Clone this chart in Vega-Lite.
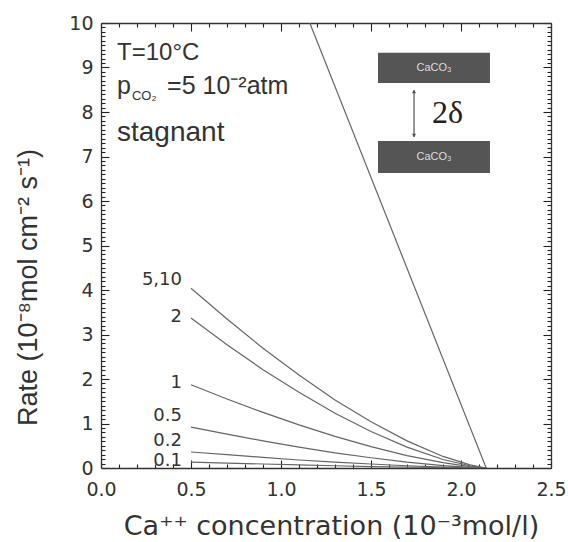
{
  "$schema": "https://vega.github.io/schema/vega-lite/v6.json",
  "width": 450,
  "height": 445,
  "autosize": "none",
  "padding": {"left": 101, "top": 23, "right": 17, "bottom": 74},
  "background": "white",
  "config": {
    "view": {"stroke": null},
    "font": "Liberation Sans",
    "axis": {"domainColor": "#333", "domainWidth": 1.3, "labelColor": "#333", "titleColor": "#333", "labelFont": "DejaVu Sans", "titleFont": "Liberation Sans", "titleFontWeight": "normal", "labelOverlap": false}
  },
  "datasets": {
    "curves": [
      {"s": "5,10", "c": 0.5, "r": 4.04}, {"s": "5,10", "c": 0.7, "r": 3.35}, {"s": "5,10", "c": 0.9, "r": 2.69}, {"s": "5,10", "c": 1.1, "r": 2.09}, {"s": "5,10", "c": 1.3, "r": 1.53}, {"s": "5,10", "c": 1.5, "r": 1.04}, {"s": "5,10", "c": 1.7, "r": 0.61}, {"s": "5,10", "c": 1.9, "r": 0.26}, {"s": "5,10", "c": 2.05, "r": 0.07}, {"s": "5,10", "c": 2.14, "r": 0},
      {"s": "2", "c": 0.5, "r": 3.37}, {"s": "2", "c": 0.7, "r": 2.77}, {"s": "2", "c": 0.9, "r": 2.21}, {"s": "2", "c": 1.1, "r": 1.7}, {"s": "2", "c": 1.3, "r": 1.23}, {"s": "2", "c": 1.5, "r": 0.82}, {"s": "2", "c": 1.7, "r": 0.47}, {"s": "2", "c": 1.9, "r": 0.19}, {"s": "2", "c": 2.05, "r": 0.05}, {"s": "2", "c": 2.14, "r": 0},
      {"s": "1", "c": 0.5, "r": 1.87}, {"s": "1", "c": 0.7, "r": 1.55}, {"s": "1", "c": 0.9, "r": 1.25}, {"s": "1", "c": 1.1, "r": 0.97}, {"s": "1", "c": 1.3, "r": 0.71}, {"s": "1", "c": 1.5, "r": 0.48}, {"s": "1", "c": 1.7, "r": 0.28}, {"s": "1", "c": 1.9, "r": 0.12}, {"s": "1", "c": 2.05, "r": 0.03}, {"s": "1", "c": 2.14, "r": 0},
      {"s": "0.5", "c": 0.5, "r": 0.92}, {"s": "0.5", "c": 0.7, "r": 0.76}, {"s": "0.5", "c": 0.9, "r": 0.61}, {"s": "0.5", "c": 1.1, "r": 0.47}, {"s": "0.5", "c": 1.3, "r": 0.34}, {"s": "0.5", "c": 1.5, "r": 0.23}, {"s": "0.5", "c": 1.7, "r": 0.13}, {"s": "0.5", "c": 1.9, "r": 0.055}, {"s": "0.5", "c": 2.05, "r": 0.014}, {"s": "0.5", "c": 2.14, "r": 0},
      {"s": "0.2", "c": 0.5, "r": 0.36}, {"s": "0.2", "c": 0.7, "r": 0.3}, {"s": "0.2", "c": 0.9, "r": 0.24}, {"s": "0.2", "c": 1.1, "r": 0.18}, {"s": "0.2", "c": 1.3, "r": 0.13}, {"s": "0.2", "c": 1.5, "r": 0.09}, {"s": "0.2", "c": 1.7, "r": 0.05}, {"s": "0.2", "c": 1.9, "r": 0.02}, {"s": "0.2", "c": 2.05, "r": 0.01}, {"s": "0.2", "c": 2.14, "r": 0},
      {"s": "0.1", "c": 0.5, "r": 0.13}, {"s": "0.1", "c": 0.7, "r": 0.11}, {"s": "0.1", "c": 0.9, "r": 0.09}, {"s": "0.1", "c": 1.1, "r": 0.07}, {"s": "0.1", "c": 1.3, "r": 0.05}, {"s": "0.1", "c": 1.5, "r": 0.03}, {"s": "0.1", "c": 1.7, "r": 0.02}, {"s": "0.1", "c": 1.9, "r": 0.01}, {"s": "0.1", "c": 2.05, "r": 0}, {"s": "0.1", "c": 2.14, "r": 0}
    ],
    "steep": [{"c": 1.16, "r": 10}, {"c": 2.14, "r": 0}],
    "curveLabels": [
      {"t": "5,10", "c": 0.45, "r": 4.22},
      {"t": "2", "c": 0.45, "r": 3.39},
      {"t": "1", "c": 0.45, "r": 1.91},
      {"t": "0.5", "c": 0.45, "r": 1.16},
      {"t": "0.2", "c": 0.45, "r": 0.6},
      {"t": "0.1", "c": 0.45, "r": 0.15}
    ],
    "notes": [
      {"t": "T=10°C", "c": 0.089, "r": 9.33, "size": 24},
      {"t": "stagnant", "c": 0.089, "r": 7.53, "size": 28}
    ],
    "pco2": [
      {"t": "p", "c": 0.089, "r": 8.58, "size": 25},
      {"t": "CO₂", "c": 0.172, "r": 8.36, "size": 13},
      {"t": "=5 10⁻²atm", "c": 0.367, "r": 8.58, "size": 25}
    ],
    "boxes": [
      {"x1": 1.539, "x2": 2.161, "y1": 8.65, "y2": 9.33, "t": "CaCO₃", "cy": 8.99},
      {"x1": 1.539, "x2": 2.161, "y1": 6.63, "y2": 7.35, "t": "CaCO₃", "cy": 6.99}
    ],
    "arrow": [{"c": 1.739, "r1": 7.44, "r2": 8.49}],
    "heads": [{"c": 1.739, "r": 8.46, "sh": "triangle-up"}, {"c": 1.739, "r": 7.47, "sh": "triangle-down"}],
    "delta": [{"t": "2δ", "c": 1.839, "r": 7.98}]
  },
  "layer": [
    {
      "data": {"name": "curves"},
      "mark": {"type": "line", "color": "#666", "strokeWidth": 1.2, "clip": true},
      "encoding": {
        "x": {"field": "c", "type": "quantitative", "scale": {"domain": [0, 2.5], "nice": false},
          "axis": {"orient": "bottom", "ticks": false, "grid": true, "gridColor": "#222", "gridWidth": 1.1, "gridOpacity": 1,
            "values": [0,0.1,0.2,0.3,0.4,0.5,0.6,0.7,0.8,0.9,1,1.1,1.2,1.3,1.4,1.5,1.6,1.7,1.8,1.9,2,2.1,2.2,2.3,2.4,2.5],
            "labelExpr": "abs(datum.value*2 - round(datum.value*2)) < 0.001 ? format(datum.value, '.1f') : ''",
            "gridDash": {"condition": {"test": "abs(datum.value*2 - round(datum.value*2)) < 0.001", "value": [8, 3000]}, "value": [4, 3000]},
            "labelPadding": 12, "labelFontSize": 19, "labelFlush": false,
            "title": "Ca⁺⁺ concentration (10⁻³mol/l)", "titleFont": "DejaVu Sans", "titleFontSize": 27, "titleX": 230, "titleY": 66, "titleBaseline": "alphabetic", "titleAlign": "center", "titleAnchor": null}},
        "y": {"field": "r", "type": "quantitative", "scale": {"domain": [0, 10], "nice": false},
          "axis": {"orient": "left", "ticks": false, "grid": true, "gridColor": "#222", "gridWidth": 1.1, "gridOpacity": 1,
            "values": [0,0.1,0.2,0.3,0.4,0.5,0.6,0.7,0.8,0.9,1,1.1,1.2,1.3,1.4,1.5,1.6,1.7,1.8,1.9,2,2.1,2.2,2.3,2.4,2.5,2.6,2.7,2.8,2.9,3,3.1,3.2,3.3,3.4,3.5,3.6,3.7,3.8,3.9,4,4.1,4.2,4.3,4.4,4.5,4.6,4.7,4.8,4.9,5,5.1,5.2,5.3,5.4,5.5,5.6,5.7,5.8,5.9,6,6.1,6.2,6.3,6.4,6.5,6.6,6.7,6.8,6.9,7,7.1,7.2,7.3,7.4,7.5,7.6,7.7,7.8,7.9,8,8.1,8.2,8.3,8.4,8.5,8.6,8.7,8.8,8.9,9,9.1,9.2,9.3,9.4,9.5,9.6,9.7,9.8,9.9,10],
            "labelExpr": "abs(datum.value - round(datum.value)) < 0.001 ? format(datum.value, 'd') : ''",
            "gridDash": {"condition": {"test": "abs(datum.value - round(datum.value)) < 0.001", "value": [8, 3000]}, "value": [4, 3000]},
            "labelPadding": 8, "labelFontSize": 19, "labelFlush": false,
            "title": "Rate (10⁻⁸mol cm⁻² s⁻¹)", "titleFontSize": 27, "titleAngle": -90, "titleX": -73, "titleY": 264, "titleBaseline": "middle", "titleAlign": "center", "titleAnchor": null}},
        "detail": {"field": "s", "type": "nominal"}
      }
    },
    {
      "data": {"name": "steep"},
      "mark": {"type": "line", "color": "#666", "strokeWidth": 1.2, "clip": true},
      "encoding": {
        "x": {"field": "c", "type": "quantitative",
          "axis": {"orient": "top", "labels": false, "title": null, "ticks": false, "grid": true, "gridColor": "#222", "gridWidth": 1.1, "gridOpacity": 1,
            "values": [0,0.1,0.2,0.3,0.4,0.5,0.6,0.7,0.8,0.9,1,1.1,1.2,1.3,1.4,1.5,1.6,1.7,1.8,1.9,2,2.1,2.2,2.3,2.4,2.5],
            "gridDash": {"condition": {"test": "abs(datum.value*2 - round(datum.value*2)) < 0.001", "value": [8, 3000]}, "value": [4, 3000]}}},
        "y": {"field": "r", "type": "quantitative",
          "axis": {"orient": "right", "labels": false, "title": null, "ticks": false, "grid": true, "gridColor": "#222", "gridWidth": 1.1, "gridOpacity": 1,
            "values": [0,0.1,0.2,0.3,0.4,0.5,0.6,0.7,0.8,0.9,1,1.1,1.2,1.3,1.4,1.5,1.6,1.7,1.8,1.9,2,2.1,2.2,2.3,2.4,2.5,2.6,2.7,2.8,2.9,3,3.1,3.2,3.3,3.4,3.5,3.6,3.7,3.8,3.9,4,4.1,4.2,4.3,4.4,4.5,4.6,4.7,4.8,4.9,5,5.1,5.2,5.3,5.4,5.5,5.6,5.7,5.8,5.9,6,6.1,6.2,6.3,6.4,6.5,6.6,6.7,6.8,6.9,7,7.1,7.2,7.3,7.4,7.5,7.6,7.7,7.8,7.9,8,8.1,8.2,8.3,8.4,8.5,8.6,8.7,8.8,8.9,9,9.1,9.2,9.3,9.4,9.5,9.6,9.7,9.8,9.9,10],
            "gridDash": {"condition": {"test": "abs(datum.value - round(datum.value)) < 0.001", "value": [8, 3000]}, "value": [4, 3000]}}}
      }
    },
    {
      "data": {"name": "curveLabels"},
      "mark": {"type": "text", "align": "right", "baseline": "middle", "fontSize": 18, "font": "DejaVu Sans", "color": "#333"},
      "encoding": {
        "x": {"field": "c", "type": "quantitative", "axis": null},
        "y": {"field": "r", "type": "quantitative", "axis": null},
        "text": {"field": "t"}
      }
    },
    {
      "data": {"name": "notes"},
      "mark": {"type": "text", "align": "left", "baseline": "middle", "color": "#333"},
      "encoding": {
        "x": {"field": "c", "type": "quantitative", "axis": null},
        "y": {"field": "r", "type": "quantitative", "axis": null},
        "text": {"field": "t"},
        "size": {"field": "size", "type": "quantitative", "scale": null}
      }
    },
    {
      "data": {"name": "pco2"},
      "mark": {"type": "text", "align": "left", "baseline": "middle", "color": "#333"},
      "encoding": {
        "x": {"field": "c", "type": "quantitative", "axis": null},
        "y": {"field": "r", "type": "quantitative", "axis": null},
        "text": {"field": "t"},
        "size": {"field": "size", "type": "quantitative", "scale": null}
      }
    },
    {
      "data": {"name": "boxes"},
      "mark": {"type": "rect", "color": "#555"},
      "encoding": {
        "x": {"field": "x1", "type": "quantitative", "axis": null},
        "x2": {"field": "x2"},
        "y": {"field": "y1", "type": "quantitative", "axis": null},
        "y2": {"field": "y2"}
      }
    },
    {
      "data": {"name": "boxes"},
      "mark": {"type": "text", "align": "center", "baseline": "middle", "fontSize": 11, "color": "#ddd"},
      "encoding": {
        "x": {"datum": 1.85, "type": "quantitative", "axis": null},
        "y": {"field": "cy", "type": "quantitative", "axis": null},
        "text": {"field": "t"}
      }
    },
    {
      "data": {"name": "arrow"},
      "mark": {"type": "rule", "color": "#333", "strokeWidth": 1},
      "encoding": {
        "x": {"field": "c", "type": "quantitative", "axis": null},
        "y": {"field": "r1", "type": "quantitative", "axis": null},
        "y2": {"field": "r2"}
      }
    },
    {
      "data": {"name": "heads"},
      "mark": {"type": "point", "filled": true, "color": "#333", "size": 18},
      "encoding": {
        "x": {"field": "c", "type": "quantitative", "axis": null},
        "y": {"field": "r", "type": "quantitative", "axis": null},
        "shape": {"field": "sh", "type": "nominal", "scale": null}
      }
    },
    {
      "data": {"name": "delta"},
      "mark": {"type": "text", "align": "left", "baseline": "middle", "fontSize": 32, "font": "Liberation Serif", "color": "#222"},
      "encoding": {
        "x": {"field": "c", "type": "quantitative", "axis": null},
        "y": {"field": "r", "type": "quantitative", "axis": null},
        "text": {"field": "t"}
      }
    }
  ],
  "resolve": {"axis": {"x": "independent", "y": "independent"}}
}
